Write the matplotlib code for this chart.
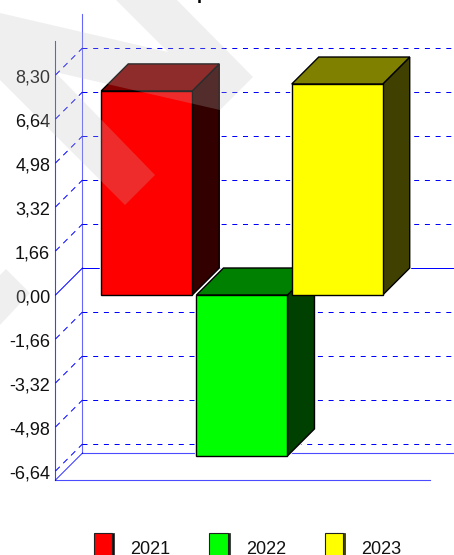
import matplotlib
matplotlib.use('Agg')
import matplotlib.pyplot as plt
from matplotlib.patches import Polygon, Rectangle
from matplotlib.transforms import ScaledTranslation

plt.rcParams['font.family'] = ['Liberation Sans', 'DejaVu Sans']

# data
categories = ['2021', '2022', '2023']
values = [7.70, -6.07, 7.96]
ticks = [-6.64, -4.98, -3.32, -1.66, 0.00, 1.66, 3.32, 4.98, 6.64, 8.30]
front_colors = ['#ff0000', '#00ff00', '#ffff00']
top_colors = ['#800000', '#008000', '#808000']
side_colors = ['#330000', '#004000', '#404000']

W, H = 454, 555
BLUE = '#0000ff'
GRID_DASH = (0, (5, 5.7))
DIAG_DASH = (0, (6, 5))


def fx(x):
    return x / W


def fy(y):
    # picture pixels count from the top
    return 1 - y / H


def fig_poly(points, **kw):
    return Polygon([(fx(x), fy(y)) for x, y in points], closed=True,
                   transform=fig.transFigure, **kw)


fig = plt.figure(figsize=(W / 100, H / 100), dpi=100)

# scales: 44px per 1.66 on y, 95.25px per category on x
left, right, floor_y, top_y = 55.5, 430, 480, 41
ax = fig.add_axes([fx(left), fy(floor_y), (right - left) / W, (floor_y - top_y) / H])
ax.set_xlim(-0.958, 2.974)
ax.set_ylim(-6.98, 9.583)
ax.patch.set_visible(False)
for s in ax.spines.values():
    s.set_visible(False)
ax.set_xticks([])
ax.set_yticks(ticks)
ax.set_yticklabels([f'{t:.2f}'.replace('.', ',') for t in ticks], fontsize=13, color='#111111')
ax.tick_params(axis='y', length=0, pad=3.8)
# labels sit a pixel under their tick
for lab in ax.get_yticklabels():
    lab.set_transform(lab.get_transform() + ScaledTranslation(0, -1 / 100, fig.dpi_scale_trans))

ymin, ymax = ax.get_ylim()
xmin, xmax = ax.get_xlim()
dx = 27 / 95.25
dy = 27 * 1.66 / 44
wall = xmin + dx
xend = 3.226  # right edge of the picture
bw = 91 / 95.25

# walls
line = dict(color=BLUE, clip_on=False)
ax.plot([xmin, xmin], [ymin, ymax], lw=0.8, alpha=0.75, zorder=1, **line)
ax.plot([wall, wall], [ymin + dy, ymax + dy], lw=0.8, alpha=0.6, zorder=1, **line)
ax.plot([xmin, xmax], [ymin, ymin], lw=0.8, alpha=0.7, zorder=1, **line)
ax.plot([wall, xend], [ymin + dy, ymin + dy], lw=0.8, alpha=0.7, zorder=1, **line)
ax.plot([xmin, wall], [ymin, ymin + dy], lw=0.72, alpha=0.8, zorder=1, **line)

# grid on the back wall and the slanted ticks
for t in ticks:
    ls = '-' if t == 0 else None
    ax.plot([wall, xend], [t + dy, t + dy], lw=0.72, ls=ls or GRID_DASH, zorder=1, **line)
    ax.plot([xmin, wall], [t, t + dy], lw=0.72, ls=ls or DIAG_DASH, zorder=1, **line)

# boxes, back to front
edge = dict(ec='black', lw=1.0, clip_on=False)
for i, v in enumerate(values):
    z = 3 + i * 3
    x0, x1 = i - bw / 2, i + bw / 2
    up = max(v, 0)
    low = min(v, 0)
    outline = [(x0, up), (x0 + dx, up + dy), (x1 + dx, up + dy), (x1 + dx, low + dy), (x1, low), (x0, low)]
    # white halo; the last box keeps it under the others so it does not cut the green top
    halo_z = 2 if i == len(values) - 1 else z
    ax.add_patch(Polygon(outline, closed=True, fc='white', ec='white', lw=2.2, zorder=halo_z, clip_on=False))
    ax.add_patch(Polygon([(x1, low), (x1 + dx, low + dy), (x1 + dx, up + dy), (x1, up)], closed=True,
                         fc=side_colors[i], zorder=z + 0.1, **edge))
    ax.add_patch(Polygon([(x0, up), (x0 + dx, up + dy), (x1 + dx, up + dy), (x1, up)], closed=True,
                         fc=top_colors[i], zorder=z + 0.2, **edge))
    ax.bar(i, v, width=bw, color=front_colors[i], edgecolor='black', linewidth=1.0,
           zorder=z + 0.3, clip_on=False)

# legend, cut by the bottom edge like the reference
swatch_x = [93.5, 209, 324.5]
for i, cat in enumerate(categories):
    fig.add_artist(Rectangle((fx(swatch_x[i] + 18), fy(557)), 2.5 / W, 24 / H, transform=fig.transFigure,
                             fc=side_colors[i], ec='#222222', lw=0.5))
    fig.add_artist(Rectangle((fx(swatch_x[i]), fy(557)), 18.5 / W, 24 / H, transform=fig.transFigure,
                             fc=front_colors[i], ec='#222222', lw=0.8))
    fig.text(fx(swatch_x[i] + 37), fy(554), cat, fontsize=13, color='#111111', ha='left', va='baseline')

# only the tail of the title is left on the picture
fig.text(fx(197), fy(-1), 'p', fontsize=13, fontweight='bold', color='black', ha='left', va='baseline')

# pale watermark over everything
mark = dict(fc='#bfbfbf', ec='none', alpha=0.235, zorder=50)
fig.add_artist(fig_poly([(0, 13), (168, 52), (116, 0), (177, 0), (253, 77), (220, 110), (55, 72),
                         (155, 175), (125, 205), (0, 80)], **mark))
fig.add_artist(fig_poly([(0, 275), (6, 269), (30, 293), (0, 325)], **mark))

fig.savefig('out.png', dpi=100)
